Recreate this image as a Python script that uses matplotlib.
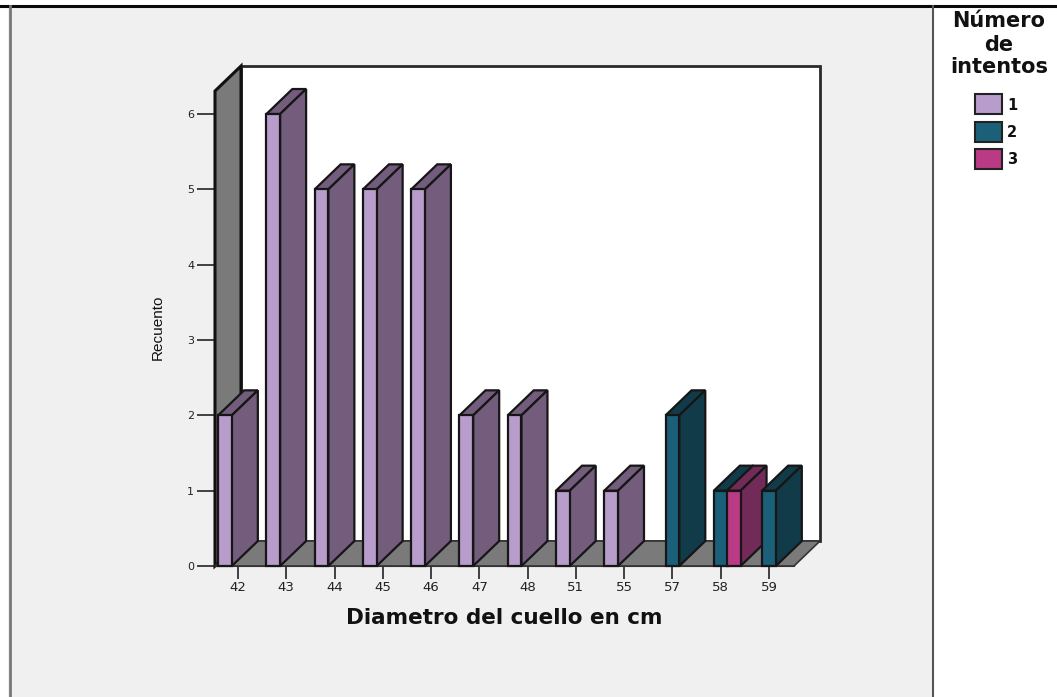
import matplotlib
matplotlib.use('Agg')
import matplotlib.pyplot as plt
from matplotlib.patches import Polygon, Rectangle
from matplotlib.lines import Line2D

diametros = ['42', '43', '44', '45', '46', '47', '48', '51', '55', '57', '58', '59']
intento_1 = [2, 6, 5, 5, 5, 2, 2, 1, 1, 0, 0, 0]
intento_2 = [0, 0, 0, 0, 0, 0, 0, 0, 0, 2, 1, 1]
intento_3 = [0, 0, 0, 0, 0, 0, 0, 0, 0, 0, 1, 0]
series_names = ['1', '2', '3']
y_ticks = [0, 1, 2, 3, 4, 5, 6]

front_colors = ['#b89ccb', '#1b6079', '#bb3a86']
side_colors = ['#745c7d', '#123b49', '#722a58']
edge = '#161616'
wall = '#7a7a7a'
bg = '#f0f0f0'

W, H = 1057, 697
fig = plt.figure(figsize=(W / 100, H / 100), dpi=100, facecolor=bg)

# front plane of the 3d box, in pixels
left, right, bottom, top = 215, 794, 566, 91
ax = fig.add_axes([left / W, 1 - bottom / H, (right - left) / W, (bottom - top) / H])
x_px = 48.27
y_px = 75.33
ax.set_xlim((left - 238) / x_px, (right - 238) / x_px)
ax.set_ylim(0, (bottom - top) / y_px)
ax.patch.set_alpha(0)
for s in ax.spines.values():
    s.set_visible(False)

# depth of the box and bar width in data units
dx = 26 / x_px
dy = 25 / y_px
bar_w = 13.7 / x_px

x0, x1 = ax.get_xlim()
y1 = ax.get_ylim()[1]

def face(pts, color, z, lw=1.6, ec=edge):
    ax.add_patch(Polygon(pts, closed=True, facecolor=color, edgecolor=ec, linewidth=lw,
                         joinstyle='miter', clip_on=False, zorder=z))

# back wall, left wall and floor
face([(x0 + dx, dy), (x1 + dx, dy), (x1 + dx, y1 + dy), (x0 + dx, y1 + dy)], 'white', 1, 2, '#2a2a2a')
face([(x0, 0), (x0 + dx, dy), (x0 + dx, y1 + dy), (x0, y1)], wall, 2, 2.2, '#111111')
face([(x0, 0), (x1, 0), (x1 + dx, dy), (x0 + dx, dy)], wall, 2, 1.2, '#333333')

def bar3d(xc, v, i, z):
    a = xc - bar_w / 2
    b = xc + bar_w / 2
    face([(a, v), (b, v), (b + dx, v + dy), (a + dx, v + dy)], side_colors[i], z)
    face([(b, 0), (b + dx, dy), (b + dx, v + dy), (b, v)], side_colors[i], z)
    face([(a, 0), (b, 0), (b, v), (a, v)], front_colors[i], z + 0.1)

z = 3
for c in range(len(diametros)):
    for i, vals in enumerate([intento_1, intento_2, intento_3]):
        if vals[c] > 0:
            bar3d(c + (i - 1) * bar_w * 0.95, vals[c], i, z)
            z += 1

ax.set_xticks(range(len(diametros)))
ax.set_xticklabels(diametros, fontsize=9.5, color='#222222')
ax.set_yticks(y_ticks)
ax.set_yticklabels([str(t) for t in y_ticks], fontsize=8, color='#222222')
ax.tick_params(axis='x', length=9, width=1.3, color='#333333', pad=2)
ax.tick_params(axis='y', length=13, width=1.3, color='#333333', pad=2)
ax.spines['bottom'].set_visible(True)
ax.spines['bottom'].set_color('#333333')

fig.text(504 / W, 1 - 618 / H, 'Diametro del cuello en cm', fontsize=15.5, fontweight='bold',
         ha='center', va='center', color='#111111')
fig.text(158 / W, 1 - 327 / H, 'Recuento', fontsize=11, family='Liberation Sans',
         rotation=90, ha='center', va='center', color='#111111')

# page frame and the white margins around it
fig.add_artist(Rectangle((0, 0), 8 / W, 1, transform=fig.transFigure, facecolor='white', edgecolor='none'))
fig.add_artist(Rectangle((0, 1 - 5 / H), 1, 5 / H, transform=fig.transFigure, facecolor='white', edgecolor='none'))
fig.add_artist(Rectangle((934 / W, 0), (W - 934) / W, 1 - 6 / H, transform=fig.transFigure,
                         facecolor='white', edgecolor='none'))
fig.add_artist(Line2D([0, 1], [1 - 6 / H, 1 - 6 / H], color='#0a0a0a', linewidth=2.2))
fig.add_artist(Line2D([10 / W, 10 / W], [0, 1 - 6 / H], color='#777777', linewidth=2))
fig.add_artist(Line2D([933 / W, 933 / W], [0, 1 - 6 / H], color='#555555', linewidth=1.5))

# legend
for txt, yp in zip(['Número', 'de', 'intentos'], [21, 45, 67]):
    fig.text(999 / W, 1 - yp / H, txt, fontsize=15, fontweight='bold', ha='center', va='center',
             color='#111111')
for i, name in enumerate(series_names):
    yp = 94 + i * 27.5
    fig.add_artist(Rectangle((975 / W, 1 - (yp + 20) / H), 27 / W, 20 / H, transform=fig.transFigure,
                             facecolor=front_colors[i], edgecolor='#222222', linewidth=1.5))
    fig.text(1007 / W, 1 - (yp + 11) / H, name, fontsize=10.5, fontweight='bold', ha='left', va='center',
             color='#111111')

fig.savefig('out.png', dpi=100, facecolor=bg)
